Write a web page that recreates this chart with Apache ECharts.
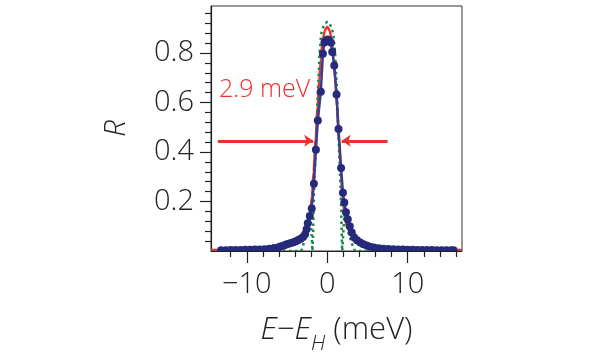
<!DOCTYPE html>
<html><head><meta charset="utf-8">
<script src="https://cdn.jsdelivr.net/npm/echarts@6/dist/echarts.min.js"></script>
<style>html,body{margin:0;padding:0;background:#fff}#c{width:600px;height:355px}</style>
</head><body><div id="c"></div>
<script>
// measured reflectivity (blue points)
const measE = [-13.2,-12.6,-12.0,-11.4,-10.8,-10.2,-9.6,-9.0,-8.4,-7.8,-7.2,-6.6,-6.0,-5.7,-5.4,-5.1,-4.8,-4.5,-4.2,-3.9,-3.6,-3.3,-3.0,-2.75,-2.57,-2.42,-2.17,-1.93,-1.66,-1.41,-1.17,-0.8,-0.54,-0.35,-0.15,0.05,0.25,0.45,0.62,0.87,1.16,1.40,1.72,1.95,2.12,2.33,2.55,2.8,3.05,3.35,3.7,4.1,4.5,4.9,5.3,5.8,6.4,7.0,7.6,8.2,8.8,9.4,10.0,10.6,11.2,11.8,12.4,13.0,13.6,14.2,14.8,15.4,15.7];
const measR = [0.003,0.003,0.004,0.004,0.004,0.005,0.005,0.006,0.006,0.007,0.009,0.012,0.016,0.019,0.022,0.026,0.029,0.032,0.035,0.039,0.044,0.050,0.057,0.068,0.088,0.112,0.141,0.172,0.272,0.409,0.527,0.644,0.797,0.843,0.850,0.855,0.850,0.843,0.804,0.750,0.632,0.493,0.335,0.235,0.196,0.157,0.128,0.100,0.075,0.055,0.043,0.034,0.027,0.022,0.017,0.014,0.011,0.009,0.008,0.007,0.006,0.006,0.005,0.005,0.004,0.004,0.004,0.004,0.003,0.003,0.003,0.003,0.003];
// fit (red)
const fitE = [-14.45,-12,-10,-9,-7,-5.5,-4.5,-3.7,-3.2,-2.8,-2.5,-2.2,-1.9,-1.7,-1.45,-1.2,-1.0,-0.8,-0.6,-0.3,-0.15,0,0.15,0.3,0.6,0.8,1.0,1.2,1.45,1.7,1.9,2.2,2.5,2.8,3.2,3.7,4.5,5.5,7,9,12,16.75];
const fitR = [0.004,0.005,0.007,0.008,0.012,0.019,0.028,0.040,0.055,0.075,0.095,0.130,0.220,0.320,0.450,0.580,0.690,0.770,0.845,0.890,0.900,0.905,0.900,0.890,0.845,0.770,0.690,0.580,0.450,0.320,0.220,0.130,0.095,0.075,0.055,0.040,0.028,0.019,0.012,0.008,0.005,0.004];
// model (green dotted)
const modelE = [-14.45,-3.25,-3.07,-2.87,-2.65,-2.45,-2.24,-2.1,-1.84,-1.8,-1.76,-1.7,-1.63,-1.47,-1.38,-1.28,-1.18,-1.05,-0.95,-0.75,-0.5,-0.25,0,0.25,0.5,0.75,0.98,1.08,1.22,1.32,1.42,1.5,1.65,1.74,1.8,1.86,1.9,2.15,2.3,2.5,2.7,3.0,3.3,3.45,16.75];
const modelR = [0,0,0.013,0.040,0.074,0.114,0.155,0.165,0,0,0.07,0.16,0.26,0.38,0.445,0.53,0.64,0.72,0.80,0.878,0.905,0.92,0.926,0.92,0.905,0.878,0.80,0.72,0.64,0.53,0.445,0.38,0.26,0.16,0.07,0,0,0.16,0.135,0.10,0.067,0.033,0.013,0,0];

const xMajorTicks = [-10, 0, 10];
const xMinorTicks = [-12,-8,-6,-4,-2,2,4,6,8,12,14,16];
const yMajorTicks = [0.2, 0.4, 0.6, 0.8];
const yMinorTicks = [0.04,0.08,0.12,0.16,0.24,0.28,0.32,0.36,0.44,0.48,0.52,0.56,0.64,0.68,0.72,0.76,0.84,0.88,0.92,0.96];
const xRange = [-14.45, 16.75];
const yRange = [0, 0.99];
const fwhmText = '2.9 meV';
const arrowLevel = 0.445;
const arrowLeft = [-13.6, -1.75];
const arrowRight = [7.5, 1.8];

const FONT = "'Open Sans', 'Liberation Sans', sans-serif";
const RED = '#ee2f2f', BLUE = '#262a7a', GREEN = '#17894a', INK = '#222';
const zip = (a, b) => a.map((v, i) => [v, b[i]]);
const fmt = v => v < 0 ? '\u2212' + Math.abs(v) : String(v);

const gridPos = { left: 211, right: 138, top: 6, bottom: 104, containLabel: false, outerBoundsMode: 'none' };
const chart = echarts.init(document.getElementById('c'));
chart.setOption({
  animation: false,
  grid: [
    Object.assign({ show: true, borderColor: '#333', borderWidth: 1, backgroundColor: 'transparent' }, gridPos),
    Object.assign({}, gridPos)
  ],
  xAxis: [{
    gridIndex: 0, type: 'value', min: xRange[0], max: xRange[1], z: 200,
    axisLine: { show: true, onZero: false, lineStyle: { color: INK, width: 1.2 } },
    axisTick: { show: true, customValues: xMajorTicks, length: 12, lineStyle: { color: INK, width: 1.2 } },
    axisLabel: { customValues: xMajorTicks, formatter: fmt, margin: 19, fontSize: 29, fontWeight: 300, fontFamily: FONT, color: INK },
    splitLine: { show: false },
    name: '{i|E}{n|\u2212}{i|E}{s|H}{n| (meV)}', nameLocation: 'middle', nameGap: 64,
    nameTextStyle: {
      fontFamily: FONT, color: INK, fontSize: 31,
      rich: {
        i: { fontStyle: 'italic', fontSize: 31, fontWeight: 300, fontFamily: FONT, color: INK, verticalAlign: 'top', lineHeight: 32 },
        n: { fontSize: 31, fontWeight: 300, fontFamily: FONT, color: INK, verticalAlign: 'top', lineHeight: 32 },
        s: { fontStyle: 'italic', fontSize: 21, fontWeight: 300, fontFamily: FONT, color: INK, verticalAlign: 'bottom', lineHeight: 40 }
      }
    }
  }, {
    gridIndex: 1, type: 'value', min: xRange[0], max: xRange[1], z: 200,
    axisLine: { show: false, onZero: false },
    axisTick: { show: true, customValues: xMinorTicks, length: 6, lineStyle: { color: INK, width: 1.2 } },
    axisLabel: { show: false }, splitLine: { show: false }
  }],
  yAxis: [{
    gridIndex: 0, type: 'value', min: yRange[0], max: yRange[1],
    axisLine: { show: true, onZero: false, lineStyle: { color: INK, width: 1.2 } },
    axisTick: { show: true, customValues: yMajorTicks, length: 11, lineStyle: { color: INK, width: 1.2 } },
    axisLabel: { customValues: yMajorTicks, formatter: v => v.toFixed(1), margin: 17, fontSize: 29, fontWeight: 300, fontFamily: FONT, color: INK },
    splitLine: { show: false },
    name: 'R', nameLocation: 'middle', nameGap: 80,
    nameTextStyle: { fontStyle: 'italic', fontSize: 30, fontWeight: 300, fontFamily: FONT, color: INK }
  }, {
    gridIndex: 1, type: 'value', min: yRange[0], max: yRange[1],
    axisLine: { show: false, onZero: false },
    axisTick: { show: true, customValues: yMinorTicks, length: 6, lineStyle: { color: INK, width: 1.2 } },
    axisLabel: { show: false }, splitLine: { show: false }
  }],
  graphic: [{
    type: 'rect', z: 100, silent: true,
    shape: { x: 212, y: 252, width: 262, height: 10 },
    style: { fill: '#fff' }
  }, {
    type: 'text', left: 219, top: 77, silent: true, z: 100,
    style: { text: fwhmText, fill: RED, font: `300 25px ${FONT}` }
  }],
  series: [{
    type: 'line', name: 'fit', xAxisIndex: 0, yAxisIndex: 0, z: 2,
    data: zip(fitE, fitR), showSymbol: false, smooth: 0.3, smoothMonotone: 'x',
    lineStyle: { color: RED, width: 2.5 },
    markLine: {
      silent: true, animation: false, label: { show: false },
      symbol: ['none', 'arrow'], symbolSize: [9, 9],
      lineStyle: { color: RED, width: 3, type: 'solid' },
      emphasis: { disabled: true },
      data: [
        [{ coord: [arrowLeft[0], arrowLevel] }, { coord: [arrowLeft[1], arrowLevel] }],
        [{ coord: [arrowRight[0], arrowLevel] }, { coord: [arrowRight[1], arrowLevel] }]
      ]
    }
  }, {
    type: 'line', name: 'model', xAxisIndex: 0, yAxisIndex: 0, z: 3,
    data: zip(modelE, modelR), showSymbol: false,
    lineStyle: { color: GREEN, width: 2.5, type: [2.5, 3.5] }
  }, {
    type: 'line', name: 'data', xAxisIndex: 0, yAxisIndex: 0, z: 4,
    data: zip(measE, measR), symbol: 'circle', symbolSize: 8, showAllSymbol: true,
    itemStyle: { color: BLUE },
    lineStyle: { color: '#3b3e8e', width: 2.5 }
  }]
});
</script></body></html>
